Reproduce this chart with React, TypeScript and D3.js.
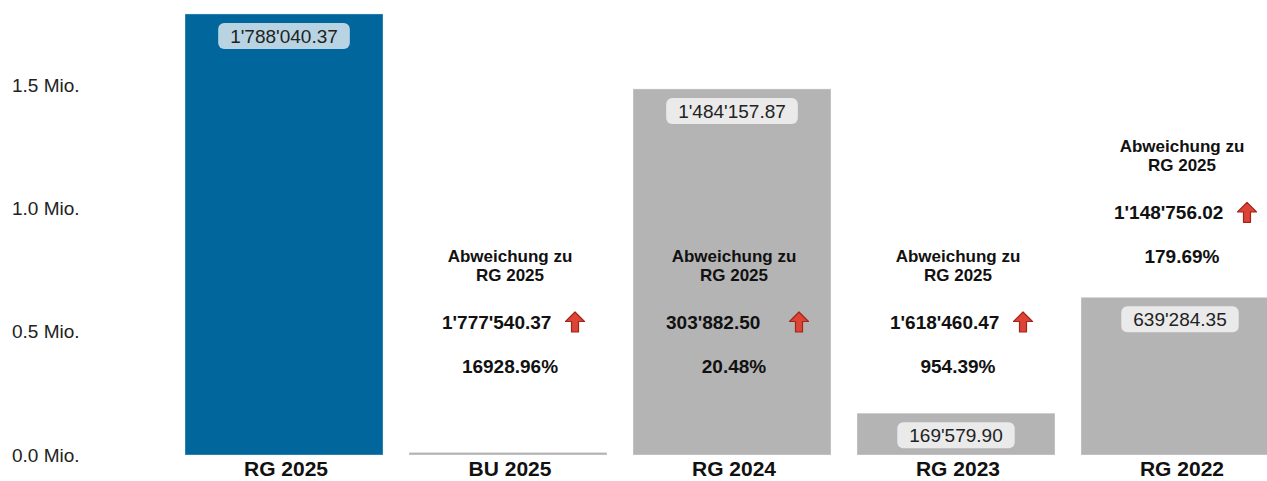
import * as d3 from "d3";

const categories = ["RG 2025", "BU 2025", "RG 2024", "RG 2023", "RG 2022"];
const values = [1788040.37, 10500.0, 1484157.87, 169579.9, 639284.35];
const yTicks = [0, 500000, 1000000, 1500000];
const refLabel = "RG 2025";

const FONT = "'Liberation Sans', Arial, Helvetica, sans-serif";

const swiss = d3.formatLocale({
  decimal: ".",
  thousands: "'",
  grouping: [3],
  currency: ["", ""],
});
const fmtValue = swiss.format(",.2f");
const fmtTick = (v: number) => d3.format(".1f")(v / 1e6) + " Mio.";

let ctx: CanvasRenderingContext2D | null = null;
function textWidth(s: string, font: string) {
  if (!ctx) ctx = document.createElement("canvas").getContext("2d");
  if (!ctx) return s.length * 9;
  ctx.font = font;
  return ctx.measureText(s).width;
}

export default function App() {
  const width = 1280;
  const height = 481;

  const x = d3
    .scaleBand<string>()
    .domain(categories)
    .range([185, 1279])
    .paddingInner(0.116)
    .paddingOuter(0);

  const y = d3.scaleLinear().domain([0, 1500000]).range([455, 85]);

  const ref = values[0];

  return (
    <svg
      width={width}
      height={height}
      style={{ position: "absolute", left: 0, top: 0, fontFamily: FONT }}
    >
      {yTicks.map((t) => (
        <text key={t} x={12} y={y(t)} dy="0.35em" fontSize={19} fill="#222">
          {fmtTick(t)}
        </text>
      ))}

      {categories.map((c, i) => {
        const v = values[i];
        const bx = x(c) as number;
        const bw = x.bandwidth();
        const cx = bx + bw / 2;
        const top = y(v);
        const label = fmtValue(v);
        const lw = textWidth(label, `19px ${FONT}`) + 24;
        const showLabel = y(0) - top > 40;
        const isRef = i === 0;

        let annot = null;
        if (!isRef) {
          const dev = ref - v;
          const pct = (dev / v) * 100;
          // block sits above a bar whose top would run into it
          const shift = top < 240 ? 0 : Math.min(0, top - 407);
          const ax = cx + 67;
          const ay = 322 + shift;
          annot = (
            <g fontWeight="bold" fill="#111">
              <text x={cx + 2} y={262 + shift} textAnchor="middle" fontSize={17}>
                Abweichung zu
              </text>
              <text x={cx + 2} y={281 + shift} textAnchor="middle" fontSize={17}>
                {refLabel}
              </text>
              <text x={cx - 66} y={329 + shift} fontSize={19}>
                {fmtValue(dev)}
              </text>
              <path
                transform={`translate(${ax},${ay})`}
                d={dev >= 0
                  ? "M0,-10 L9.5,-0.5 L3.5,-0.5 L3.5,10 L-3.5,10 L-3.5,-0.5 L-9.5,-0.5 Z"
                  : "M0,10 L9.5,0.5 L3.5,0.5 L3.5,-10 L-3.5,-10 L-3.5,0.5 L-9.5,0.5 Z"}
                fill="#dc4535"
                stroke="#a3231a"
                strokeWidth={1.2}
                strokeLinejoin="round"
              />
              <text x={cx + 2} y={373 + shift} textAnchor="middle" fontSize={19}>
                {d3.format(".2f")(pct)}%
              </text>
            </g>
          );
        }

        return (
          <g key={c}>
            <rect
              x={bx}
              y={top}
              width={bw}
              height={y(0) - top}
              fill={isRef ? "#01669b" : "#b4b4b4"}
              stroke="#ffffff"
              strokeOpacity={0.35}
              strokeWidth={1}
            />
            {showLabel && (
              <g>
                <rect
                  x={cx - lw / 2}
                  y={top + 9}
                  width={lw}
                  height={26}
                  rx={6}
                  fill="#ffffff"
                  fillOpacity={0.72}
                />
                <text x={cx} y={top + 29} textAnchor="middle" fontSize={19} fill="#222">
                  {label}
                </text>
              </g>
            )}
            {annot}
            <text
              x={cx + 2}
              y={476}
              textAnchor="middle"
              fontSize={21}
              fontWeight="bold"
              fill="#111"
            >
              {c}
            </text>
          </g>
        );
      })}
    </svg>
  );
}
